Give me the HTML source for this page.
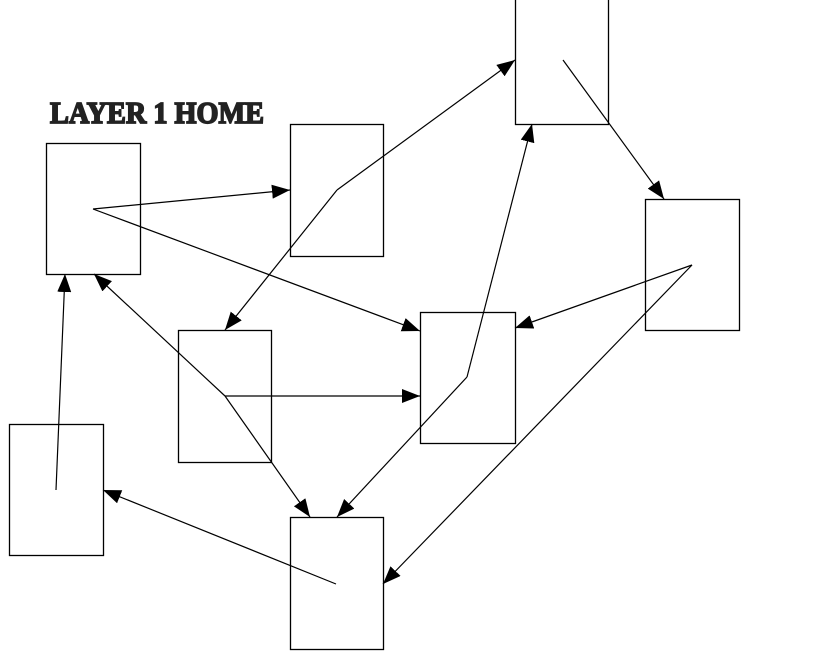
<!DOCTYPE html>
<html><head><style>
html,body{margin:0;padding:0;background:#fff;}
svg{display:block;}
</style></head><body>
<svg width="828" height="654" viewBox="0 0 828 654" xmlns="http://www.w3.org/2000/svg">
<defs>
<marker id="a" viewBox="0 0 18 14" refX="18" refY="7" markerWidth="18" markerHeight="14" markerUnits="userSpaceOnUse" orient="auto">
<path d="M0,0 L18,7 L0,14 Z" fill="#000"/>
</marker>
</defs>
<text x="50" y="123" font-family="Liberation Serif, serif" font-weight="bold" font-size="29" textLength="214" lengthAdjust="spacingAndGlyphs" fill="#222" stroke="#222" stroke-width="1.6" transform="translate(0,-6) scale(1,1.05)">LAYER 1  HOME</text>
<g fill="none" stroke="#000" stroke-width="1.3">
<rect x="46.5" y="143.5" width="94" height="131"/>
<rect x="290.5" y="124.5" width="93" height="132"/>
<rect x="515.5" y="-1.5" width="93" height="126"/>
<rect x="645.5" y="199.5" width="94" height="131"/>
<rect x="420.5" y="312.5" width="95" height="131"/>
<rect x="178.5" y="330.5" width="93" height="132"/>
<rect x="9.5" y="424.5" width="94" height="131"/>
<rect x="290.5" y="517.5" width="93" height="132"/>
</g>
<g fill="none" stroke="#000" stroke-width="1.2" marker-end="url(#a)">
<line x1="93" y1="209" x2="290" y2="190"/>
<line x1="93" y1="209" x2="420" y2="331"/>
<line x1="337" y1="190" x2="515" y2="60"/>
<line x1="337" y1="190" x2="225" y2="330"/>
<line x1="563" y1="60" x2="664" y2="199"/>
<line x1="692" y1="265" x2="515" y2="328"/>
<line x1="692" y1="265" x2="383" y2="584"/>
<line x1="467" y1="377" x2="532" y2="124"/>
<line x1="467" y1="377" x2="337" y2="517"/>
<line x1="225" y1="396" x2="94" y2="274"/>
<line x1="225" y1="396" x2="420" y2="396"/>
<line x1="225" y1="396" x2="310" y2="517"/>
<line x1="336" y1="584" x2="103" y2="490"/>
<line x1="56" y1="490" x2="65" y2="274"/>
</g>
</svg>
</body></html>
